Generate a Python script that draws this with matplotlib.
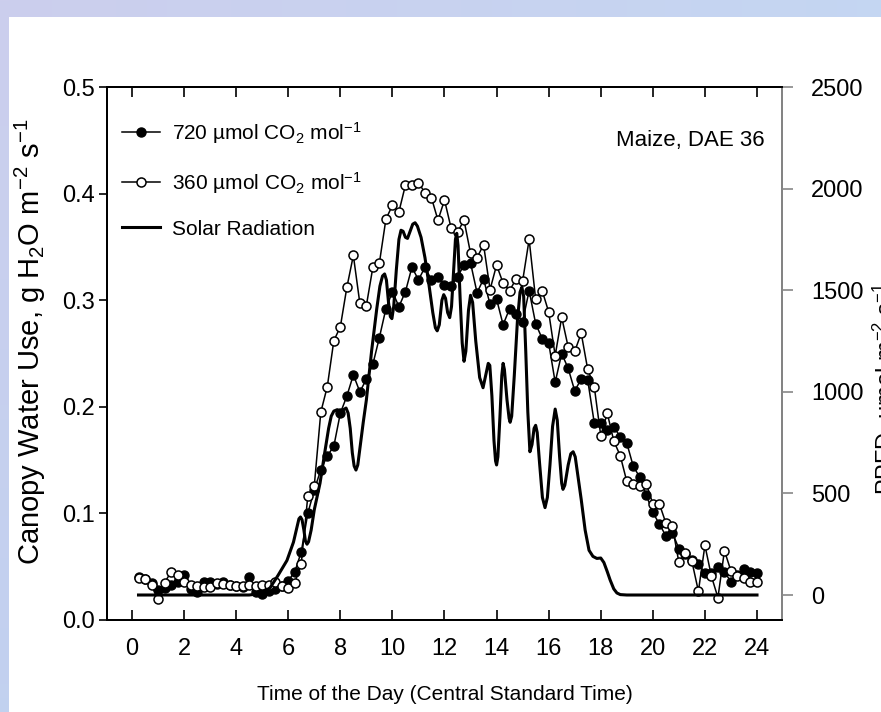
import numpy as np
import matplotlib
matplotlib.use("Agg")
import matplotlib.pyplot as plt

plt.rcParams['font.family'] = ['Liberation Sans', 'DejaVu Sans']
plt.rcParams['mathtext.fontset'] = 'custom'
plt.rcParams['mathtext.rm'] = 'Liberation Sans'
plt.rcParams['mathtext.it'] = 'Liberation Sans:italic'
plt.rcParams['mathtext.bf'] = 'Liberation Sans:bold'

# quarter-hour sampling times (h, CST)
hours = np.arange(0.25, 24.01, 0.25)

# canopy water use, g H2O m-2 s-1
cwu_720 = [
    0.040, 0.038, 0.035, 0.028,   # 0-1 h
    0.030, 0.033, 0.036, 0.042,
    0.029, 0.026, 0.036, 0.036,
    0.034, 0.036, 0.033, 0.032,
    0.031, 0.040, 0.026, 0.024,
    0.027, 0.029, 0.032, 0.037,   # 5-6 h
    0.045, 0.064, 0.100, 0.122,
    0.141, 0.154, 0.163, 0.194,
    0.210, 0.230, 0.214, 0.226,
    0.240, 0.265, 0.292, 0.308,
    0.294, 0.308, 0.331, 0.319,   # 10-11 h
    0.331, 0.319, 0.322, 0.314,
    0.313, 0.322, 0.333, 0.335,
    0.307, 0.320, 0.296, 0.301,
    0.277, 0.292, 0.287, 0.280,
    0.309, 0.278, 0.264, 0.260,   # 15-16 h
    0.223, 0.250, 0.236, 0.215,
    0.226, 0.225, 0.185, 0.185,
    0.178, 0.181, 0.172, 0.166,
    0.144, 0.134, 0.117, 0.101,
    0.090, 0.079, 0.082, 0.067,   # 20-21 h
    0.062, 0.056, 0.053, 0.044,
    0.044, 0.050, 0.045, 0.036,
    0.042, 0.048, 0.045, 0.044,
]
cwu_360 = [
    0.039, 0.038, 0.033, 0.020,
    0.035, 0.045, 0.042, 0.036,
    0.033, 0.032, 0.031, 0.031,
    0.035, 0.034, 0.033, 0.032,
    0.032, 0.033, 0.032, 0.033,
    0.033, 0.036, 0.032, 0.030,
    0.035, 0.053, 0.116, 0.126,
    0.195, 0.219, 0.262, 0.275,
    0.312, 0.342, 0.297, 0.295,
    0.331, 0.335, 0.376, 0.389,
    0.383, 0.408, 0.408, 0.410,
    0.401, 0.396, 0.375, 0.394,
    0.368, 0.364, 0.375, 0.344,
    0.340, 0.352, 0.310, 0.333,
    0.316, 0.309, 0.320, 0.318,
    0.357, 0.301, 0.309, 0.289,
    0.248, 0.284, 0.256, 0.252,
    0.269, 0.235, 0.219, 0.173,
    0.194, 0.168, 0.154, 0.130,
    0.128, 0.126, 0.128, 0.109,
    0.109, 0.091, 0.088, 0.054,
    0.063, 0.055, 0.027, 0.070,
    0.041, 0.021, 0.065, 0.046,
    0.041, 0.039, 0.036, 0.036,
]

# solar radiation trace (PPFD, umol m-2 s-1), read densely around each swing
ppfd_hours = [
    0.25, 4.5, 4.8, 5.0, 5.3, 5.6, 5.95, 6.2, 6.33, 6.41, 6.47, 6.53, 6.6,
    6.66, 6.72, 6.78, 6.88, 7.0, 7.1, 7.22, 7.4, 7.55, 7.65, 7.75, 7.88,
    8.0, 8.12, 8.22, 8.3, 8.38, 8.46, 8.53, 8.6, 8.67, 8.75, 8.88, 9.0,
    9.2, 9.4, 9.52, 9.62, 9.7, 9.77, 9.85, 9.92, 9.98, 10.05, 10.15, 10.25,
    10.33, 10.41, 10.5, 10.58, 10.68, 10.78, 10.87, 10.96, 11.1, 11.25,
    11.4, 11.55, 11.65, 11.72, 11.8, 11.9, 11.97, 12.04, 12.12, 12.2,
    12.27, 12.35, 12.42, 12.47, 12.52, 12.6, 12.68, 12.75, 12.82, 12.92,
    13.0, 13.08, 13.2, 13.35, 13.48, 13.58, 13.68, 13.74, 13.82, 13.9,
    13.96, 14.0, 14.05, 14.13, 14.2, 14.25, 14.3, 14.4, 14.48, 14.52,
    14.58, 14.68, 14.8, 14.9, 14.97, 15.04, 15.12, 15.2, 15.28, 15.36,
    15.44, 15.5, 15.56, 15.65, 15.76, 15.86, 15.95, 16.05, 16.15, 16.25,
    16.33, 16.42, 16.5, 16.55, 16.62, 16.75, 16.85, 16.94, 17.02, 17.12,
    17.25, 17.4, 17.55, 17.7, 17.85, 18.0, 18.12, 18.25, 18.36, 18.5,
    18.62, 18.75, 19.0, 24.0,
]
ppfd = [
    0, 0, 5, 12, 35, 95, 170, 260, 330, 375, 384, 370, 320,
    265, 250, 262, 320, 420, 480, 550, 700, 820, 880, 905, 912,
    905, 912, 920, 895, 820, 700, 635, 615, 640, 720, 850, 960,
    1200, 1410, 1520, 1570, 1580, 1550, 1440, 1370, 1360, 1420, 1600, 1750,
    1795, 1790, 1760, 1755, 1790, 1825, 1832, 1815, 1760, 1660,
    1530, 1390, 1315, 1300, 1330, 1450, 1478, 1460, 1390, 1365,
    1420, 1600, 1750, 1780, 1720, 1460, 1240, 1150, 1200, 1400,
    1475, 1440, 1250, 1070, 1020, 1080, 1140, 1130, 980, 760,
    660, 640, 680, 880, 1080, 1140, 1110, 960, 870, 850,
    880, 1080, 1350, 1490, 1515, 1470, 1200, 900, 705, 740,
    820, 835, 800, 650, 480, 430, 480, 640, 830, 915,
    860, 680, 550, 520, 540, 640, 695, 705, 680, 590,
    470, 320, 220, 190, 180, 182, 160, 115, 74, 30,
    10, 2, 0, 0,
]

W, H = 881, 712
fig = plt.figure(figsize=(W / 100, H / 100), dpi=100)

# slide-style tinted border along the top and left edges
bg = fig.add_axes([0, 0, 1, 1], zorder=-10)
bg.axis('off')
img = np.ones((H, W, 3))
t = np.linspace(0, 1, W)[:, None]
img[:17, :, :] = (np.array([0.80, 0.81, 0.93]) * (1 - t) + np.array([0.77, 0.84, 0.95]) * t)[None, :, :]
s = np.linspace(0, 1, H)[:, None]
img[:, :9, :] = (np.array([0.80, 0.81, 0.93]) * (1 - s) + np.array([0.76, 0.82, 0.94]) * s)[:, None, :]
bg.imshow(img, aspect='auto', extent=(0, 1, 0, 1))

ax = fig.add_axes([107 / W, 1 - 620 / H, 675 / W, 533 / H])
ax2 = ax.twinx()

l720, = ax.plot(hours, cwu_720, '-o', color='black', lw=1.1, ms=6.5,
                mfc='black', mec='black', mew=1.0)
l360, = ax.plot(hours, cwu_360, '-o', color='black', lw=1.1, ms=6.5,
                mfc='white', mec='black', mew=1.1)
lsol, = ax2.plot(ppfd_hours, ppfd, '-', color='black', lw=2.2,
                 solid_joinstyle='round')

ax.set_xlim(-0.96, 24.96)
ax.set_xticks(range(0, 25, 2))
ax.set_ylim(0, 0.5)
ax.set_yticks([0.0, 0.1, 0.2, 0.3, 0.4, 0.5])
ax.set_yticklabels(['0.0', '0.1', '0.2', '0.3', '0.4', '0.5'])
ax.tick_params(axis='x', direction='in', top=True, length=7, width=1.2,
               labelsize=17, pad=13)
ax.tick_params(axis='y', direction='out', length=6, width=1.2,
               labelsize=17, pad=3)

ax2.set_ylim(-123, 2500)
ax2.set_yticks(range(0, 2501, 500))
ax2.tick_params(axis='y', direction='out', length=8, width=1.2,
                color='#888888', labelsize=17, pad=13)

for a in (ax, ax2):
    for sp in a.spines.values():
        sp.set_linewidth(1.4)
ax2.spines['right'].set_color('#888888')

ax.set_ylabel(r"Canopy Water Use, g H$_2$O m$^{-2}$ s$^{-1}$", fontsize=21)
ax.yaxis.set_label_coords(-0.087, 0.522)
ax.set_xlabel("Time of the Day (Central Standard Time)", fontsize=15)
ax.xaxis.set_label_coords(0.5, -0.122)

ax.text(0.975, 0.90, "Maize, DAE 36", transform=ax.transAxes,
        ha='right', va='center', fontsize=16)

fig.text(871 / W, 0.454, r"PPFD, µmol m$^{-2}$ s$^{-1}$", rotation=90,
         ha='left', va='center', fontsize=17)

ax2.legend([l720, l360, lsol],
           [r"720 µmol CO$_2$ mol$^{-1}$", r"360 µmol CO$_2$ mol$^{-1}$",
            "Solar Radiation"],
           loc='upper left', bbox_to_anchor=(0.022, 0.938), frameon=False,
           fontsize=15, handlelength=1.85, handletextpad=0.58,
           labelspacing=1.15, borderaxespad=0, borderpad=0)

fig.savefig("out.png", dpi=100)
